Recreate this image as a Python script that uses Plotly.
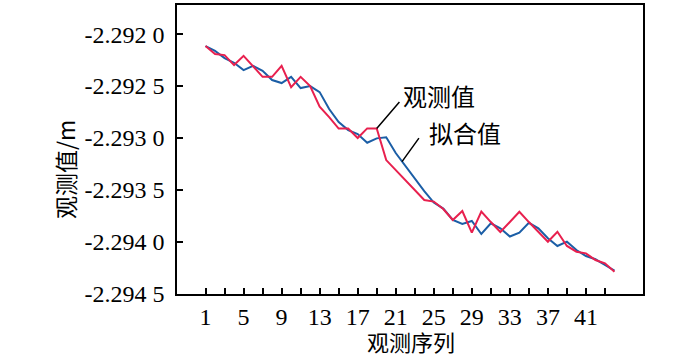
import plotly.graph_objects as go

seq = list(range(1, 45))
observed = [
    -2.292115, -2.292192, -2.292202, -2.292298, -2.292209, -2.292308, -2.292411, -2.292411,
    -2.292305, -2.292510, -2.292411, -2.292500, -2.292699, -2.292798, -2.292909, -2.292909,
    -2.293000, -2.292907, -2.292907, -2.293212, -2.293308, -2.293404, -2.293500, -2.293596,
    -2.293611, -2.293683, -2.293788, -2.293702, -2.293909, -2.293707, -2.293808, -2.293904,
    -2.293808, -2.293709, -2.293808, -2.293904, -2.293997, -2.293901, -2.294038, -2.294093,
    -2.294109, -2.294173, -2.294205, -2.294286,
]
fitted = [
    -2.292115, -2.292161, -2.292231, -2.292276, -2.292346, -2.292305, -2.292353, -2.292442,
    -2.292471, -2.292411, -2.292519, -2.292500, -2.292558, -2.292721, -2.292846, -2.292923,
    -2.292962, -2.293045, -2.293003, -2.292993, -2.293144, -2.293269, -2.293385, -2.293510,
    -2.293620, -2.293678, -2.293788, -2.293827, -2.293798, -2.293923, -2.293820, -2.293868,
    -2.293947, -2.293911, -2.293815, -2.293868, -2.293964, -2.294038, -2.293997, -2.294077,
    -2.294135, -2.294166, -2.294221, -2.294276,
]
x_tick_vals = list(range(1, 44, 4))
x_minor_ticks = list(range(1, 44, 2))
y_tick_vals = [-2.2920, -2.2925, -2.2930, -2.2935, -2.2940, -2.2945]
y_tick_text = ["-2.292 0", "-2.292 5", "-2.293 0", "-2.293 5", "-2.294 0", "-2.294 5"]

RED = "#e8204e"
BLUE = "#1b5ea6"
CJK = "Noto Sans CJK SC"
SERIF = "Liberation Serif"

fig = go.Figure()
fig.add_trace(go.Scatter(x=seq, y=fitted, mode="lines", line=dict(color=BLUE, width=2), name="拟合值"))
fig.add_trace(go.Scatter(x=seq, y=observed, mode="lines", line=dict(color=RED, width=2), name="观测值"))

fig.update_layout(
    width=700, height=355,
    margin=dict(l=177, r=57, t=5, b=61),
    paper_bgcolor="white", plot_bgcolor="white",
    showlegend=False,
)
fig.update_xaxes(
    range=[-2, 47], tickmode="array", tickvals=x_tick_vals,
    ticktext=[str(v) for v in x_tick_vals],
    ticks="", showgrid=False, zeroline=False, automargin=False,
    showline=True, linecolor="black", linewidth=1.5, mirror=True,
    tickfont=dict(family=SERIF, size=24, color="black"),
    ticklabelstandoff=0,
    minor=dict(tickmode="array", tickvals=x_minor_ticks, ticks="inside", ticklen=6, tickwidth=1.5, tickcolor="black"),
)
fig.update_yaxes(
    range=[-2.2945, -2.29172], tickmode="array", tickvals=y_tick_vals, ticktext=y_tick_text,
    ticks="inside", ticklen=6, tickwidth=1.5, tickcolor="black",
    showgrid=False, zeroline=False, automargin=False,
    showline=True, linecolor="black", linewidth=1.5, mirror=True,
    tickfont=dict(family=SERIF, size=24, color="black"),
    ticklabelstandoff=6,
)

annotations = [
    dict(text="观测值", x=25.55, y=-2.292595, xref="x", yref="y", showarrow=False,
         font=dict(family=CJK, size=24, color="black")),
    dict(text="拟合值", x=28.3, y=-2.292951, xref="x", yref="y", showarrow=False,
         font=dict(family=CJK, size=24, color="black")),
    dict(text="", x=seq[18], y=observed[18], xref="x", yref="y", showarrow=True,
         arrowhead=0, arrowwidth=1.5, arrowcolor="black", ax=24, ay=-28),
    dict(text="", x=21.66, y=fitted[20] + 0.66 * (fitted[21] - fitted[20]), xref="x", yref="y",
         showarrow=True, arrowhead=0, arrowwidth=1.5, arrowcolor="black", ax=18, ay=-25),
    dict(text="观测序列", x=411, y=355 - 341, xref="paper", yref="paper", showarrow=False,
         font=dict(family=CJK, size=22, color="black")),
    dict(text="观测值/m", x=65, y=355 - 170, xref="paper", yref="paper", showarrow=False,
         textangle=-90, font=dict(family=CJK, size=23, color="black")),
]
pw, ph = 700 - 177 - 57, 355 - 5 - 61
for a in annotations:
    if a.get("xref") == "paper":
        a["x"] = (a["x"] - 177) / pw
        a["y"] = (a["y"] - 61) / ph
        a["xanchor"] = "center"
        a["yanchor"] = "middle"
fig.update_layout(annotations=annotations)

fig.write_html("out.html", config={"displayModeBar": False},
               post_script="document.body.style.margin='0';")
